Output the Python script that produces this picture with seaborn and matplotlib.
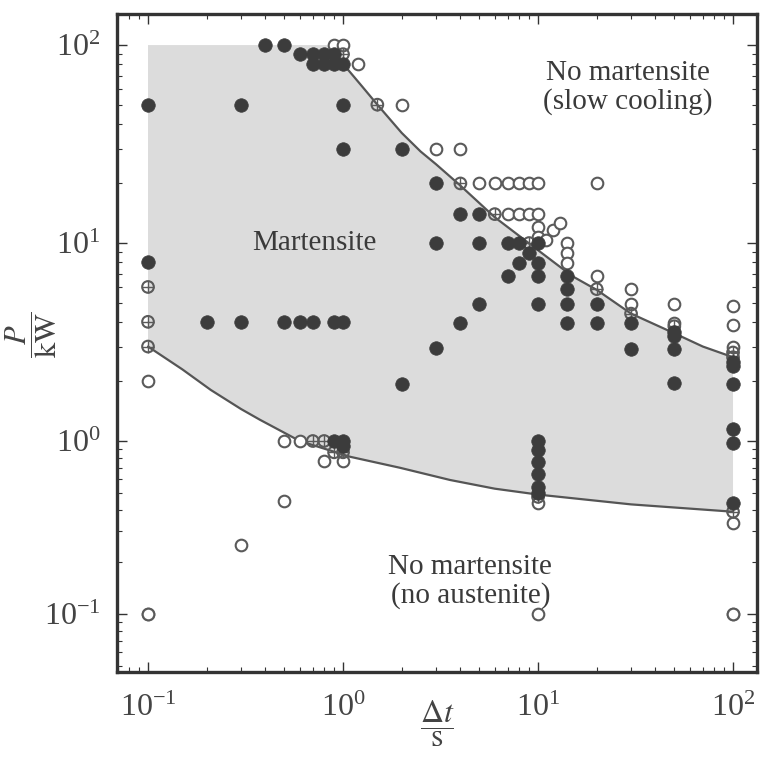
import numpy as np
import pandas as pd
import matplotlib
matplotlib.use("Agg")
import matplotlib.pyplot as plt
from matplotlib.ticker import LogLocator, LogFormatterMathtext, NullFormatter
import seaborn as sns

# ---- measured points: cooling time dt [s], laser power P [kW] ----
filled_dt = [0.1, 0.1, 0.4, 0.5, 0.6, 0.7, 0.7, 0.8, 0.8, 0.9, 0.9, 1.0,
             0.3, 1.0, 1.0, 2, 3, 4, 5, 3, 5, 7, 8, 9, 8, 7, 10, 10, 10,
             14, 14, 14, 14, 20, 20, 30, 30, 50, 50, 50, 50, 100, 100, 100,
             100, 100, 100, 0.2, 0.3, 0.5, 0.6, 0.7, 0.9, 1.0, 3, 4, 5, 10, 2,
             0.9, 1.0, 1.0, 10, 10, 10, 10, 10, 10]
filled_P = [50, 8, 100, 100, 90, 90, 80, 90, 80, 90, 80, 80,
            50, 50, 30, 30, 20, 14, 14, 10, 10, 10, 10, 8.9, 7.9, 6.8, 7.9, 6.8, 4.9,
            6.8, 5.85, 4.9, 3.95, 4.9, 3.95, 3.95, 2.9, 3.55, 3.4, 2.9, 1.96, 2.5, 2.4, 1.94,
            1.15, 0.97, 0.44, 4, 4, 4, 4, 4, 4, 4, 2.95, 3.95, 4.9, 10, 1.94,
            1.0, 1.0, 0.94, 1.0, 0.89, 0.76, 0.645, 0.54, 0.50]

open_dt = [0.9, 1.0, 1.2, 2, 3, 4, 5, 6, 7, 8, 9, 10, 20,
           7, 8, 9, 10, 12, 13, 10, 10, 11,
           14, 14, 14, 20, 30, 30, 50, 50, 100, 100, 100, 100,
           0.1, 0.1, 0.5, 0.6, 0.8, 1.0, 0.5, 0.3, 10, 100, 0.1, 10, 100]
open_P = [100, 100, 80, 50, 30, 30, 20, 20, 20, 20, 20, 20, 20,
          14, 14, 14, 14, 11.6, 12.6, 12, 10.7, 10.4,
          10, 8.9, 7.9, 6.8, 5.85, 4.9, 4.9, 3.95, 4.8, 3.85, 3.0, 0.335,
          2, 0.1, 1.0, 1.0, 0.77, 0.77, 0.45, 0.25, 0.44, 0.1, 0.1, 0.1, 0.1]

mixed_dt = [1.0, 1.5, 4, 6, 9, 20, 30, 50, 100, 100, 100,
            0.1, 0.1, 0.1, 0.7, 0.8, 0.9, 1.0, 10]
mixed_P = [90, 50, 20, 14, 10, 5.85, 4.4, 3.8, 2.8, 2.65, 0.39,
           6, 4, 3, 1.0, 1.0, 0.86, 0.86, 0.475]

# ---- boundaries of the martensite field ----
upper_dt = [1.05, 1.25, 1.5, 2.0, 2.5, 3.0, 4.0, 6.0, 10, 15, 20, 30, 50, 70, 100]
upper_P = [76, 62, 50, 36, 29, 25, 19.5, 13.5, 9.2, 6.8, 5.8, 4.4, 3.5, 3.0, 2.65]
lower_dt = [0.1, 0.15, 0.21, 0.3, 0.375, 0.6, 1.09, 1.96, 3.54, 6.0, 10, 30, 100]
lower_P = [3.0, 2.3, 1.81, 1.45, 1.28, 1.0, 0.81, 0.70, 0.595, 0.53, 0.49, 0.43, 0.39]
field_top_P = 100

region_labels = ["No martensite\n(slow cooling)", "Martensite",
                 "No martensite\n(no austenite)"]
x_label = r"$\dfrac{\Delta t}{\mathrm{s}}$"
y_label = r"$\dfrac{P}{\mathrm{kW}}$"

sns.set_style("ticks")
plt.rcParams["font.family"] = ["Liberation Serif", "DejaVu Serif"]
plt.rcParams["mathtext.fontset"] = "stix"

ink = "#333333"
fig = plt.figure(figsize=(7.62, 7.58), dpi=100)
ax = fig.add_axes([117 / 762, 1 - 672 / 758, 640 / 762, 658 / 758])

# power axis: logarithmic, with the decade below 1 kW drawn shorter
squeeze = 173 / 198


def fwd(p):
    l = np.log10(np.clip(np.asarray(p, dtype=float), 1e-12, None))
    return np.where(l < 0, l * squeeze, l)


def inv(v):
    v = np.asarray(v, dtype=float)
    return np.where(v < 0, 10 ** (v / squeeze), 10 ** v)


ax.set_xscale("log")
ax.set_yscale("function", functions=(fwd, inv))

# shaded martensite field
poly_x = list(lower_dt) + [upper_dt[-1]] + list(upper_dt[::-1]) + [1.0, lower_dt[0]]
poly_y = list(lower_P) + [upper_P[-1]] + list(upper_P[::-1]) + [field_top_P, field_top_P]
ax.fill(poly_x, poly_y, color="#dcdcdc", lw=0, zorder=1)

sns.lineplot(x=upper_dt, y=upper_P, ax=ax, color="#555555", lw=1.6,
             estimator=None, sort=False, zorder=2)
sns.lineplot(x=lower_dt, y=lower_P, ax=ax, color="#555555", lw=1.6,
             estimator=None, sort=False, zorder=2)

pts = pd.concat([
    pd.DataFrame({"dt": filled_dt, "P": filled_P, "kind": "filled"}),
    pd.DataFrame({"dt": open_dt, "P": open_P, "kind": "open"}),
    pd.DataFrame({"dt": mixed_dt, "P": mixed_P, "kind": "mixed"}),
], ignore_index=True)

op = pts[pts.kind == "open"]
sns.scatterplot(data=op, x="dt", y="P", ax=ax, s=70, marker="o",
                facecolor="white", edgecolor="#5a5a5a", linewidth=1.5, zorder=3)
mx = pts[pts.kind == "mixed"]
sns.scatterplot(data=mx, x="dt", y="P", ax=ax, s=70, marker="o",
                facecolor="none", edgecolor="#5a5a5a", linewidth=1.5, zorder=4)
sns.scatterplot(data=mx, x="dt", y="P", ax=ax, s=70, marker="+",
                color="#5a5a5a", linewidth=1.0, zorder=4)
fl = pts[pts.kind == "filled"]
sns.scatterplot(data=fl, x="dt", y="P", ax=ax, s=95, marker="o",
                color="#3c3c3c", edgecolor="#3c3c3c", linewidth=0.5, zorder=5)

ax.set_xlim(10 ** -1.159, 10 ** 2.123)
ax.set_ylim(10 ** (-1.167 / squeeze), 10 ** 2.157)

for axis in (ax.xaxis, ax.yaxis):
    axis.set_major_locator(LogLocator(base=10))
    axis.set_minor_locator(LogLocator(base=10, subs=np.arange(2, 10)))
    axis.set_major_formatter(LogFormatterMathtext())
    axis.set_minor_formatter(NullFormatter())

ax.tick_params(which="both", direction="in", top=True, right=True,
               colors=ink, labelcolor="#444444", labelsize=23)
ax.tick_params(which="major", length=7, width=1.0)
ax.tick_params(which="minor", length=3.5, width=0.8)
ax.tick_params(axis="x", which="major", pad=16)
ax.tick_params(axis="y", which="major", pad=12)
for sp in ax.spines.values():
    sp.set_linewidth(2.4)
    sp.set_color(ink)

ax.set_xlabel(x_label, fontsize=23, color="#444444")
ax.xaxis.set_label_coords(0.5, -0.04)
ax.set_ylabel(y_label, fontsize=22, color="#444444")
ax.yaxis.set_label_coords(-0.09, 0.512)

txt = dict(transform=ax.transAxes, ha="center", va="center", fontsize=21,
           color="#3a3a3a", linespacing=1.1)
ax.text(0.798, 0.889, region_labels[0], **txt)
ax.text(0.309, 0.652, region_labels[1], **txt)
ax.text(0.552, 0.137, region_labels[2], **txt)

if ax.get_legend() is not None:
    ax.get_legend().remove()

fig.savefig("out.png", dpi=100)
